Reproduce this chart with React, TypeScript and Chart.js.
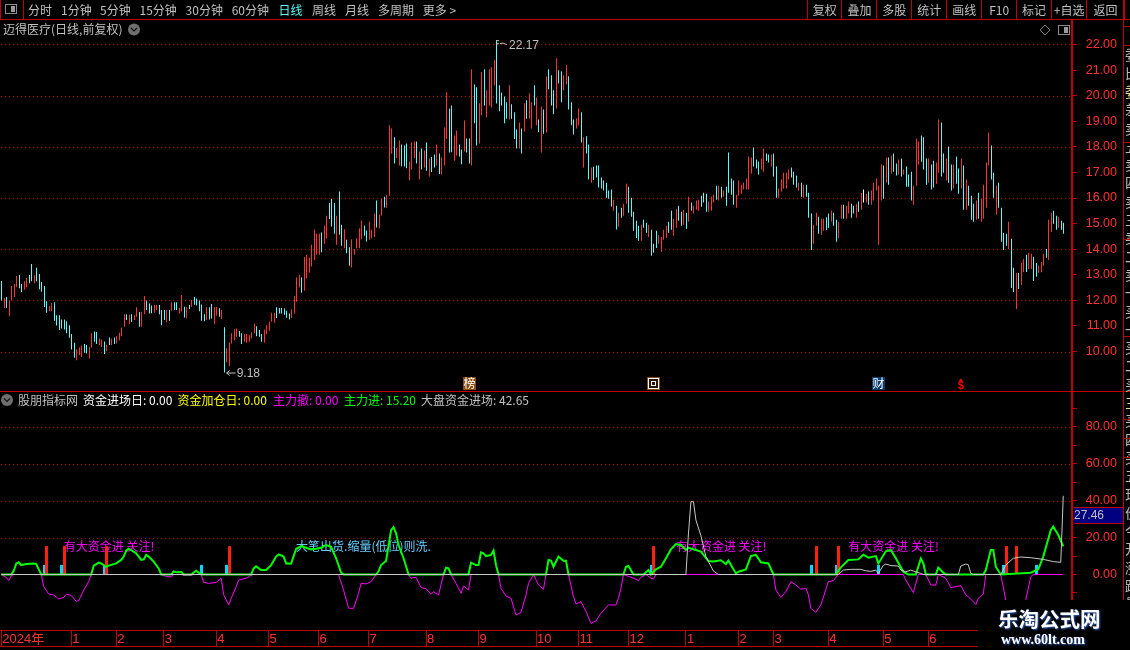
import React, { useEffect, useRef } from "react";
import { Chart, registerables } from "chart.js";

Chart.register(...registerables);

// ---------- data ----------
const candleHigh = [
  12.76,12.09,12.13,11.99,12.56,12.64,12.95,12.99,12.64,12.75,
  12.88,12.99,13.42,12.98,13.27,13.03,12.72,12.56,11.96,11.78,
  11.91,11.93,11.42,11.42,11.25,11.25,11.18,11.03,10.68,10.34,
  10.09,10.16,10.24,10.29,10.25,10.18,10.71,10.78,10.76,10.51,
  10.47,10.39,10.26,10.55,10.50,10.55,10.60,10.73,10.94,11.46,
  11.46,11.44,11.46,11.42,11.73,11.54,11.54,12.17,11.99,11.88,
  11.80,11.82,11.82,11.82,11.62,11.62,11.62,11.62,11.93,11.93,
  11.93,11.71,12.21,11.75,11.73,11.82,12.01,12.13,12.07,11.99,
  11.84,11.46,11.74,11.73,11.86,11.73,11.74,11.69,11.62,10.95,
  10.13,10.35,10.71,10.88,10.90,10.80,10.71,10.68,10.68,10.64,
  10.75,11.10,10.99,10.84,10.68,10.86,11.03,11.16,11.52,11.52,
  11.73,11.70,11.70,11.68,11.59,11.49,11.65,12.17,12.89,12.99,
  12.89,13.69,13.78,13.66,14.17,14.76,14.60,14.60,14.65,14.92,
  15.31,15.80,15.97,15.80,15.31,16.25,14.95,14.78,14.37,14.08,
  14.39,14.00,14.43,14.82,15.12,14.92,14.73,15.08,14.76,15.40,
  15.90,15.35,15.97,16.05,16.13,18.84,18.72,18.37,17.95,18.25,
  18.09,18.05,18.13,17.42,18.18,18.21,18.21,17.82,17.93,17.86,
  18.17,17.54,17.60,17.70,18.09,17.74,17.59,18.76,20.13,19.50,
  19.62,18.44,18.64,18.09,17.90,19.03,18.33,18.33,21.03,20.44,
  20.33,19.70,20.92,21.03,20.21,21.03,21.11,21.39,22.17,20.41,
  20.12,19.97,19.74,20.41,19.66,19.35,18.68,18.95,18.72,19.70,
  19.82,20.09,19.74,20.41,19.93,19.07,19.58,19.46,20.76,21.03,
  20.80,20.21,21.46,20.99,20.95,20.80,21.19,20.76,19.74,19.07,
  19.11,19.50,19.35,18.37,18.41,18.09,17.19,17.22,17.27,17.27,
  16.80,16.68,16.60,16.29,16.33,15.93,15.70,15.42,15.62,15.78,
  16.56,16.44,16.01,15.46,15.11,14.92,14.95,15.15,15.03,14.95,
  14.76,14.21,14.72,14.56,14.48,14.76,14.92,15.07,15.50,15.19,
  15.58,15.70,15.46,15.54,15.42,16.05,15.82,15.70,15.90,15.93,
  16.09,16.21,16.17,15.86,16.05,16.13,16.48,16.48,16.44,16.29,
  16.44,17.78,16.76,16.68,16.13,16.68,16.52,16.60,16.76,17.62,
  17.58,17.97,17.50,17.42,17.54,17.93,17.74,17.70,17.70,17.74,
  17.23,16.37,16.72,16.99,16.99,17.11,17.19,17.03,16.88,16.60,
  16.60,16.52,16.52,16.21,15.39,14.95,15.42,15.27,15.19,15.19,
  15.25,15.39,15.50,15.42,15.15,15.07,15.74,15.74,15.70,15.86,
  15.78,15.70,15.78,15.86,16.21,16.33,16.17,16.25,16.29,16.60,
  16.76,16.48,17.31,17.27,17.58,17.58,17.66,17.74,17.35,17.50,
  17.54,17.11,17.23,16.92,17.03,16.48,18.33,18.21,18.44,18.37,
  17.54,17.54,17.31,17.46,17.39,19.07,18.95,17.74,17.54,18.01,
  17.31,17.31,17.62,17.15,17.54,17.27,16.72,16.48,16.09,15.78,
  15.90,16.21,15.97,16.52,17.39,18.56,18.05,16.99,16.48,16.60,
  15.62,14.64,14.60,15.07,14.41,13.27,13.07,13.07,13.47,13.62,
  13.78,13.86,13.82,13.70,13.46,13.35,13.50,13.82,14.01,15.15,
  15.42,15.50,15.31,15.27,15.11,15.03,
];

const candleLow = [
  11.99,11.70,11.71,11.39,11.99,12.13,12.51,12.47,12.33,12.41,
  12.51,12.67,12.75,12.67,12.75,12.43,12.34,11.74,11.52,11.57,
  11.57,11.20,11.02,10.84,10.90,10.86,10.71,10.54,10.08,9.76,
  9.66,9.86,9.79,9.95,9.92,9.73,10.16,10.38,10.29,10.25,
  10.18,9.90,10.01,10.25,10.25,10.29,10.31,10.44,10.60,10.97,
  11.23,11.07,11.15,11.23,11.36,10.97,10.97,11.46,11.62,11.49,
  11.50,11.52,11.62,11.46,11.03,11.23,11.14,11.20,11.59,11.62,
  11.62,11.49,11.56,11.33,11.31,11.66,11.75,11.83,11.80,11.57,
  11.20,11.18,11.23,11.25,11.29,11.07,11.40,11.36,11.27,9.18,
  9.58,9.42,10.31,10.44,10.58,10.58,10.29,10.38,10.34,10.38,
  10.51,10.71,10.60,10.58,10.38,10.34,10.68,10.81,11.16,11.12,
  11.31,11.49,11.49,11.44,11.32,11.25,11.31,11.49,11.95,12.50,
  12.30,12.38,12.86,13.08,13.32,13.58,13.78,13.78,13.88,14.21,
  14.43,15.18,14.89,14.60,14.17,14.56,14.13,14.04,13.84,13.35,
  13.28,13.78,14.04,14.04,14.39,14.52,14.30,14.37,14.43,14.48,
  14.85,14.82,15.31,15.63,15.62,16.09,17.74,17.35,17.56,17.27,
  17.24,17.23,17.16,16.68,17.11,17.56,17.35,16.72,17.11,17.19,
  17.07,16.84,17.02,17.19,17.27,16.94,16.92,17.27,18.31,17.78,
  17.79,17.46,17.66,17.62,17.32,17.82,17.78,17.35,17.27,18.92,
  18.05,18.13,19.23,19.62,19.15,19.62,19.54,20.41,19.69,19.39,
  19.62,18.92,19.10,19.07,19.10,18.31,17.93,17.93,17.74,18.60,
  19.10,19.10,18.72,19.62,18.84,18.58,17.78,18.51,18.56,20.25,
  19.62,19.27,19.50,20.48,19.74,20.21,20.44,19.46,18.84,18.48,
  18.72,18.84,18.17,17.19,17.74,16.72,16.60,16.70,16.80,16.41,
  16.37,16.29,16.01,15.97,15.67,15.50,14.77,14.88,15.23,15.31,
  15.78,15.42,15.27,14.72,14.44,14.33,14.33,14.84,14.64,14.48,
  13.74,13.86,14.05,14.21,13.90,14.37,14.44,14.64,14.76,14.52,
  14.84,15.11,14.92,14.95,14.80,15.07,15.50,15.39,15.54,15.50,
  15.66,15.82,15.46,15.46,15.50,15.82,15.93,15.90,16.01,16.05,
  15.70,16.21,16.13,15.74,15.62,16.09,16.17,16.33,16.33,16.33,
  16.95,17.23,17.15,16.92,17.11,17.03,17.46,17.39,17.23,16.84,
  16.01,16.01,16.25,16.37,16.37,16.72,16.80,16.52,16.41,16.29,
  16.05,16.01,16.05,15.23,13.97,14.21,14.92,14.60,14.56,14.72,
  14.75,14.84,15.07,14.92,14.29,14.44,15.19,15.19,15.19,15.39,
  15.23,15.39,15.23,15.46,15.54,15.82,15.82,15.74,15.74,15.90,
  16.29,14.17,15.90,15.97,16.60,16.52,16.95,17.03,16.88,16.92,
  16.84,16.92,16.44,16.44,15.90,15.74,16.48,17.31,17.42,17.11,
  16.52,16.60,16.33,16.41,16.56,16.99,16.84,16.99,16.68,16.60,
  16.29,16.37,16.56,16.17,16.37,15.54,15.54,15.70,15.15,15.07,
  15.15,15.19,15.07,15.19,15.62,17.27,16.72,16.01,15.35,15.62,
  14.29,13.97,14.13,14.01,12.48,12.33,11.66,12.44,12.60,13.11,
  13.11,13.23,13.23,12.76,12.92,13.07,13.10,13.35,13.66,13.58,
  14.68,14.99,14.76,14.84,14.76,14.60,
];

// u = closed up, d = closed down, w = flat
const candleDirection = [
  "d u d u u u u d d u","u d d u d d d d d u","u d d d d d d d d d","u u u d d u u d d u","u d u d u d u u u u",
  "d u d u u d u u d d","d u u d d d u d u d","d u u d u d u d d d","d d u d d u u d u d","u u u u u d d u u u",
  "u u d d d u u u u u","d d d d d d u u u u","d u u u u u u u d u","u d d d u d d u d d","u u u u u d d u u u",
  "d u u d u u u d u u","d d d u u u d u d u","d u d d u d u u u d","d u u d d u d d u d","d u u d u u u u d d",
  "d d d u d d d u d u","d u u d u d u d u d","d d u d d u u d d d","u u d u d d u d d d","d d d d d u d u d u",
  "u d d d d d u d d u","d d d u u u u d d u","u d d u d u d u u u","d d d u u u d u d u","d d d d u u u u u u",
  "u d d d u u d d u d","d u u u u u d d d u","d u d d d u u d u u","d d u d d u u d u u","d d u d u w u d u u",
  "u u u d u d u d d u","d u d d d u u u d d","d u d d u u d d u d","d u d d u d u d d d","u d u u u u d d u d",
  "d d d u d d u d u u","d u u d d u u u d u","u d d u d d",
].join(" ").split(" ");

const categories = new Array(429).fill("");
const monthStarts = [0,28,46,65,86,107,127,147,170,191,214,231,251,274,295,309,331,353,371];
const monthLabels = ["2024年","1","2","3","4","5","6","7","8","9","10","11","12","1","2","3","4","5","6"];
monthStarts.forEach((m, k) => { categories[m] = monthLabels[k]; });

const mainInflow = [
  [0,0],[4,0],[5,2],[6,6],[7,6.6],[8,5.1],[10,5.7],[13,6],[14,5.7],[15,2.8],[16,0],[36,0],[37,4.8],[39,6.4],[40,6],
  [42,4.2],[43,4.8],[46,6],[48,7.9],[49,9.7],[50,12.9],[51,14],[53,12.4],[54,11.5],[56,7.9],[57,8.2],[58,10.6],[59,9.7],
  [61,7],[63,3.3],[64,0],[68,0],[69,1.7],[70,1.2],[72,1.4],[73,0],[76,0],[78,2],[79,1],[80,0],[100,0],[101,3.3],[102,4.4],
  [104,2.4],[106,2.4],[108,5.1],[110,9.7],[111,10.9],[113,9.7],[114,6],[116,5.9],[118,13.8],[120,15.4],[122,14.5],[124,13.6],
  [126,14],[128,14.5],[130,16],[132,15],[134,8.8],[136,1],[137,0],[150,0],[151,1.7],[152,5.1],[154,7.3],[156,24],[157,25.6],
  [158,22.3],[159,16],[161,8.8],[163,0],[177,0],[178,3.7],[179,3.3],[180,0],[187,0],[188,6.4],[190,5.1],[191,5.1],[192,12],
  [193,11.5],[194,10],[196,10.6],[197,13],[198,5],[199,0],[218,0],[219,7.9],[220,7.5],[221,4.2],[223,9.7],[225,7.5],[226,7.5],
  [227,0],[249,0],[250,4.2],[251,4.6],[253,0],[257,0],[259,2.4],[260,0],[262,2.8],[264,4.2],[266,8.8],[268,13.6],[270,16.5],
  [272,16],[274,13.3],[275,14.5],[278,13.3],[280,12.4],[283,7.3],[285,7],[288,7.7],[290,5.7],[291,7.5],[294,0.6],[295,1.5],
  [298,2.8],[300,10],[302,10.6],[304,6.6],[307,6],[309,0],[334,0],[336,3.9],[339,7.9],[343,8.2],[345,10.7],[347,9.1],[350,10],
  [351,6],[354,12.6],[356,13.3],[358,8.8],[361,1.5],[363,0],[366,0],[368,8.6],[369,6],[370,0],[374,0],[375,3.7],[377,1],[378,0],
  [393,0],[394,2.4],[396,13.3],[397,13.3],[398,4.2],[400,0],[412,1],[415,2.8],[417,9.7],[420,24],[421,26],[423,21.4],[425,15.2],
];

const mainOutflow = [
  [0,0],[2,-1.5],[3,-3.3],[4,-0.8],[5,0],[16,0],[17,-6.6],[19,-10.6],[21,-11.1],[23,-13.3],[25,-12.4],[26,-10.7],[28,-11.3],
  [30,-14.5],[31,-14.2],[33,-8.4],[35,-3.9],[36,0],[64,0],[66,-1],[68,-1.4],[69,0],[72,0],[73,-0.5],[76,-0.5],[77,0],[80,0],
  [81,-4.2],[83,-4.8],[86,-4.3],[88,-1.9],[89,-11],[91,-16.5],[92,-13],[94,-6.6],[95,-3],[98,-2],[100,-0.3],[101,0],[135,0],
  [137,-8.4],[139,-18.3],[141,-18.3],[143,-10.2],[144,-4.8],[146,-5.1],[148,-3.9],[150,0],[163,0],[164,-2],[166,-1.5],[168,-7.1],
  [170,-7.7],[172,-10.7],[173,-9.3],[175,-11.1],[177,0],[180,0],[182,-4.8],[184,-10.2],[185,-6.2],[187,-8.4],[188,0],[199,0],
  [200,-7.5],[202,-11.7],[204,-12.9],[206,-22],[208,-20.5],[210,-11.1],[211,-4.8],[213,0],[215,-5.7],[217,-8],[218,0],[227,0],
  [229,-12],[230,-16],[232,-14.7],[234,-20.1],[236,-26.5],[238,-25.2],[240,-21],[243,-16.5],[246,-16.5],[247,-12.9],[248,-7.5],
  [249,0],[253,-2],[255,-3.3],[256,-1.5],[258,0],[260,-2],[261,-2.5],[262,0],[309,0],[310,-8.4],[312,-12.4],[314,-9.3],[316,-3.9],
  [318,-5.7],[320,-8],[322,-7.5],[323,-11],[324,-18.3],[326,-20.5],[328,-16.5],[331,-3.9],[333,-3.3],[335,0],[361,0],[362,-3],
  [365,-9.8],[367,0],[370,0],[372,-5.7],[374,-5.7],[375,0],[378,-2],[380,-7.1],[382,-6.6],[384,-6],[386,-11],[388,-13.3],
  [390,-16.2],[391,-12.9],[393,-10.6],[394,0],[400,0],[402,-13.8],[404,-30],[407,-30],[410,-13.8],[412,-1.2],[413,0],[425,0],
];

const marketInflow = [
  [0,0],[274,0],[275,22],[276,39.5],[277,39.5],[278,29.5],[280,21],[282,9.7],[285,1.9],[287,0],[335,0],[337,2.4],[340,2.8],
  [344,2.8],[346,2],[348,1.7],[350,2.4],[351,0.6],[353,5],[354,5.7],[356,4.8],[359,4.6],[360,2.4],[362,1.5],[364,2.4],[366,1.4],
  [368,0.6],[369,0],[383,0],[384,4.6],[386,5.7],[387,5.3],[388,0.6],[389,0],[400,0],[402,5.1],[405,8.8],[408,9.5],[412,9.1],
  [417,8.2],[421,7],[424,6.6],[425,42.65],
];

const capitalEntryDays = [[18,15.4],[25,15.4],[42,15.4],[91,15.4],[261,15.4],[326,15.4],[335,15.4],[402,15.4],[406,15.4]];
const capitalAddDays = [[17,5.2],[24,5.2],[41,5.2],[80,5.2],[90,5.2],[260,5.2],[324,5.2],[334,5.2],[351,5.2],[401,5.2],[414,5.2]];

const priceGridLevels = [10, 12, 14, 16, 18, 20, 22];
const indicatorGridLevels = [20, 40, 60, 80];

const chartNotes = [
  { index: 25, value: 15.45, text: "有大资金进 关注!", color: "#ff00ff" },
  { index: 118, value: 15.45, text: "大笔出货.缩量(低位)则洗.", color: "#66ccff" },
  { index: 270, value: 15.45, text: "有大资金进 关注!", color: "#ff00ff" },
  { index: 339, value: 15.45, text: "有大资金进 关注!", color: "#ff00ff" },
];

const indicatorLegend = [
  { x: 18, text: "股朋指标网", color: "#c0c0c0" },
  { x: 83, text: "资金进场日: 0.00", color: "#ffffff" },
  { x: 177.5, text: "资金加仓日: 0.00", color: "#ffff00" },
  { x: 273, text: "主力撤: 0.00", color: "#ff00ff" },
  { x: 344, text: "主力进: 15.20", color: "#00ff00" },
  { x: 421, text: "大盘资金进场: 42.65", color: "#c0c0c0" },
];

const periodMenu = [
  { x: 28, text: "分时" }, { x: 61, text: "1分钟" }, { x: 100, text: "5分钟" }, { x: 139.5, text: "15分钟" },
  { x: 185.6, text: "30分钟" }, { x: 231.7, text: "60分钟" }, { x: 278.6, text: "日线", active: true },
  { x: 312, text: "周线" }, { x: 345, text: "月线" }, { x: 378, text: "多周期" }, { x: 422.7, text: "更多 >" },
];
const toolButtons = ["复权", "叠加", "多股", "统计", "画线", "F10", "标记", "+自选", "返回"];
const toolSeparators = [807, 841.4, 876.4, 911.3, 946.3, 981.2, 1016.2, 1051, 1086.4, 1123.6];
const eventBadges = [
  { index: 187, text: "榜", bg: "#8a4a12" },
  { index: 261, text: "回", bg: "#8a4a12" },
  { index: 351, text: "财", bg: "#0d3a6e" },
];
const sideGlyphs = "委比委差卖五卖四卖三卖二卖一买一买二买三买四买五现价今开涨跌最高涨幅最低总手量比外盘内盘换手股本净资";

// ---------- styling ----------
const RED_TEXT = "#ff3232";
const RED_LINE = "#c00000";
const RED_DOT = "#a80000";
const CJK = '"Noto Sans CJK SC", "Liberation Sans", sans-serif';
const NUM = '"Liberation Sans", "Noto Sans CJK SC", sans-serif';

const sparse = (pts: number[][]) => {
  const out: (number | null)[] = new Array(candleHigh.length).fill(null);
  pts.forEach(([i, v]) => { out[i] = v; });
  return out;
};

const pixelSnap = {
  id: "pixelSnap",
  afterDatasetsUpdate(chart: any) {
    chart.data.datasets.forEach((ds: any, k: number) => {
      if (ds.type !== "bar") return;
      chart.getDatasetMeta(k).data.forEach((el: any) => { el.x = Math.round(el.x) + 0.5; });
    });
  },
};

const hline = (ctx: any, x0: number, x1: number, y: number, c = RED_LINE) => {
  ctx.fillStyle = c; ctx.fillRect(x0, y, x1 - x0, 1);
};
const vline = (ctx: any, x: number, y0: number, y1: number, c = RED_LINE) => {
  ctx.fillStyle = c; ctx.fillRect(x, y0, 1, y1 - y0);
};
const label = (ctx: any, text: string, x: number, y: number, color: string, font = `12px ${CJK}`, align = "left") => {
  ctx.font = font; ctx.fillStyle = color; ctx.textAlign = align; ctx.textBaseline = "middle";
  ctx.fillText(text, x, y);
};
const chevronCircle = (ctx: any, x: number, y: number) => {
  ctx.fillStyle = "#6e6e6e"; ctx.beginPath(); ctx.arc(x, y, 6, 0, Math.PI * 2); ctx.fill();
  ctx.strokeStyle = "#101010"; ctx.lineWidth = 1.2; ctx.beginPath();
  ctx.moveTo(x - 3, y - 1.5); ctx.lineTo(x, y + 1.5); ctx.lineTo(x + 3, y - 1.5); ctx.stroke();
};
const panelIcon = (ctx: any, x: number, y: number) => {
  ctx.strokeStyle = "#8a8a8a"; ctx.lineWidth = 1; ctx.strokeRect(x + 0.5, y + 0.5, 11, 9);
  ctx.fillStyle = "#9a9a9a"; ctx.fillRect(x + 6, y + 2, 4, 6);
};

const dotRow = (ctx: any, y: number, right: number) => {
  const row = Math.round(y);
  ctx.fillStyle = RED_DOT;
  for (let px = 1; px < right; px += 4) ctx.fillRect(px, row, 1, 1);
};

const notesLayer = {
  id: "notesLayer",
  beforeDatasetsDraw(chart: any) {
    const { ctx, scales, chartArea } = chart;
    ctx.save();
    priceGridLevels.forEach((v) => dotRow(ctx, scales.y.getPixelForValue(v), chartArea.right));
    indicatorGridLevels.forEach((v) => dotRow(ctx, scales.y2.getPixelForValue(v), chartArea.right));
    chartNotes.forEach((n) => {
      label(ctx, n.text, scales.x.getPixelForValue(n.index), scales.y2.getPixelForValue(n.value), n.color);
    });
    ctx.restore();
  },
};

const chrome = {
  id: "chrome",
  afterDraw(chart: any) {
    const { ctx, scales } = chart;
    const { x, y } = scales;
    ctx.save();
    // toolbar
    hline(ctx, 0, 1130, 19);
    vline(ctx, 0, 0, 19);
    vline(ctx, 23, 0, 19);
    panelIcon(ctx, 5, 4);
    periodMenu.forEach((m) => label(ctx, m.text, m.x, 10, m.active ? "#54fcfc" : "#c0c0c0"));
    toolSeparators.forEach((s) => vline(ctx, Math.round(s), 0, 19));
    toolButtons.forEach((b, k) => {
      label(ctx, b, (toolSeparators[k] + toolSeparators[k + 1]) / 2 + 0.5, 10, "#c0c0c0", `12px ${CJK}`, "center");
    });
    // price panel header
    label(ctx, "迈得医疗(日线,前复权)", 3, 29.5, "#c0c0c0");
    chevronCircle(ctx, 134, 29.5);
    ctx.strokeStyle = "#777777"; ctx.lineWidth = 1; ctx.beginPath();
    ctx.moveTo(1045, 25); ctx.lineTo(1050, 30); ctx.lineTo(1045, 35); ctx.lineTo(1040, 30); ctx.closePath(); ctx.stroke();
    panelIcon(ctx, 1058, 25);
    // high / low marks
    const hx = x.getPixelForValue(198), hy = y.getPixelForValue(22.17);
    ctx.strokeStyle = "#c0c0c0"; ctx.beginPath();
    ctx.moveTo(hx, hy + 0.5); ctx.lineTo(hx + 3, hy + 0.5);
    ctx.moveTo(hx, hy + 3.5); ctx.lineTo(hx + 3, hy + 3.5);
    ctx.moveTo(hx + 4, hy + 3.5); ctx.lineTo(hx + 7, hy + 3); ctx.lineTo(hx + 11, hy + 4.5);
    ctx.stroke();
    label(ctx, "22.17", hx + 13, hy + 5.5, "#c0c0c0", `12px ${NUM}`);
    const lx = x.getPixelForValue(89), ly = y.getPixelForValue(9.18);
    ctx.beginPath();
    ctx.moveTo(lx + 3, ly + 0.5); ctx.lineTo(lx + 12, ly + 0.5);
    ctx.moveTo(lx + 6, ly - 2); ctx.lineTo(lx + 3, ly + 0.5); ctx.lineTo(lx + 6, ly + 3);
    ctx.stroke();
    label(ctx, "9.18", lx + 13, ly + 1, "#c0c0c0", `12px ${NUM}`);
    // event badges
    eventBadges.forEach((b) => {
      const cx = Math.round(x.getPixelForValue(b.index));
      ctx.fillStyle = b.bg; ctx.fillRect(cx - 6, 377, 13, 13);
      if (b.text === "回") {
        ctx.strokeStyle = "#ffffff"; ctx.lineWidth = 1;
        ctx.fillStyle = "#2a1405"; ctx.fillRect(cx - 4, 379, 9, 9);
        ctx.strokeRect(cx - 4.5, 378.5, 10, 10);
        ctx.strokeRect(cx - 1.5, 381.5, 4, 4);
      } else {
        label(ctx, b.text, cx + 0.5, 383.5, "#ffffff", `12px ${CJK}`, "center");
      }
    });
    const sx = x.getPixelForValue(384);
    label(ctx, "$", sx, 386, "#ff0000", `bold 11px ${NUM}`, "center");
    ctx.fillStyle = "#ff0000"; ctx.beginPath();
    ctx.moveTo(sx, 378.5); ctx.lineTo(sx + 2, 381); ctx.lineTo(sx - 2, 381); ctx.closePath(); ctx.fill();
    // indicator panel header
    hline(ctx, 0, 1130, 391);
    chevronCircle(ctx, 7, 400);
    indicatorLegend.forEach((l) => label(ctx, l.text, l.x, 400.5, l.color));
    // second row of the date axis
    hline(ctx, 0, 1072, 646);
    // value box
    ctx.fillStyle = "#000080"; ctx.fillRect(1074, 508, 49, 15);
    hline(ctx, 1074, 1123, 507); hline(ctx, 1074, 1123, 523);
    label(ctx, "27.46", 1074, 515.5, "#c0c0c0", `12px ${NUM}`);
    // right-hand side column, cut off by the window
    vline(ctx, 1123, 0, 600);
    ctx.save();
    ctx.beginPath(); ctx.rect(1124, 20, 6, 580); ctx.clip();
    Array.from(sideGlyphs).forEach((ch, k) => {
      label(ctx, ch, 1125, 55 + k * 18.3, k % 17 === 2 ? "#e0e0a0" : "#b8b8b8", `14px ${CJK}`);
    });
    ctx.restore();
    [26, 45, 142, 239, 336, 419, 438, 457].forEach((h) => hline(ctx, 1124, 1130, h));
    // watermark
    ctx.fillStyle = "#000000"; ctx.fillRect(978, 600, 152, 50);
    ctx.shadowColor = "#3060c0"; ctx.shadowBlur = 2; ctx.shadowOffsetX = 1; ctx.shadowOffsetY = 1;
    label(ctx, "乐淘公式网", 998, 619.5, "#ffffff", `bold 20.5px ${CJK}`);
    label(ctx, "www.60lt.com", 1001, 640, "#ffffff", 'bold 14px "Liberation Serif", serif');
    ctx.restore();
  },
};

const tickFont = { family: NUM, size: 12.5 };

export default function App() {
  const ref = useRef<HTMLCanvasElement | null>(null);
  useEffect(() => {
    document.body.style.margin = "0";
    document.body.style.background = "#000";
    const canvas = ref.current as HTMLCanvasElement;
    const candles = candleHigh.map((h, i) => [candleLow[i], h]);
    const dirColors = candleDirection.map((d) =>
      d === "u" ? "#ff3232" : d === "w" ? "#ffffff" : "#54fcfc");
    const thin = { type: "line", pointRadius: 0, spanGaps: true, tension: 0, yAxisID: "y2" };
    const chart = new Chart(canvas, {
      type: "bar",
      data: {
        labels: categories,
        datasets: [
          { type: "bar", label: "K线", data: candles, backgroundColor: dirColors, barThickness: 1, grouped: false, inflateAmount: 0, yAxisID: "y", order: 9 },
          { type: "bar", label: "资金加仓日", data: sparse(capitalAddDays), backgroundColor: "#00d8ff", barThickness: 3, grouped: false, inflateAmount: 0, yAxisID: "y2", order: 8 },
          { type: "bar", label: "资金进场日", data: sparse(capitalEntryDays), backgroundColor: "#ff2010", barThickness: 3, grouped: false, inflateAmount: 0, yAxisID: "y2", order: 7 },
          { ...thin, label: "主力撤", data: sparse(mainOutflow), borderColor: "#ff00ff", borderWidth: 1, order: 3 },
          { ...thin, label: "主力进", data: sparse(mainInflow), borderColor: "#00ff00", borderWidth: 2, order: 2 },
          { ...thin, label: "大盘资金进场", data: sparse(marketInflow), borderColor: "#c8c8c8", borderWidth: 1, order: 1 },
        ],
      } as any,
      options: {
        animation: false,
        responsive: false,
        devicePixelRatio: 1,
        events: [],
        layout: { padding: { top: 20, left: 0, right: 13, bottom: 0 } },
        plugins: { legend: { display: false }, tooltip: { enabled: false }, title: { display: false } },
        scales: {
          x: {
            type: "category",
            offset: true,
            afterBuildTicks: (s: any) => { s.ticks = monthStarts.map((v) => ({ value: v })); },
            afterFit: (s: any) => { s.height = 20; },
            ticks: { autoSkip: false, maxRotation: 0, minRotation: 0, align: "start", labelOffset: 1, padding: -14, color: RED_TEXT, font: { family: NUM, size: 13 } },
            grid: { drawOnChartArea: false, offset: false, tickLength: 16, color: RED_LINE, tickColor: RED_LINE },
            border: { color: RED_LINE },
          },
          y: {
            type: "linear",
            position: "right",
            stack: "panels",
            stackWeight: 371,
            min: 8.457,
            max: 22.957,
            afterBuildTicks: (s: any) => { s.ticks = s.ticks.filter((t: any) => t.value >= 10 && t.value <= 22); },
            afterFit: (s: any) => { s.width = 45; },
            ticks: { stepSize: 1, includeBounds: false, autoSkip: false, padding: 9, crossAlign: "far", color: RED_TEXT, font: tickFont, callback: (v: any) => Number(v).toFixed(2) },
            grid: { drawOnChartArea: false, tickLength: 5, tickColor: RED_LINE },
            border: { color: RED_LINE, width: 2 },
          },
          y2: {
            type: "linear",
            position: "right",
            stack: "panels",
            stackWeight: 239,
            min: -30.08,
            max: 99.46,
            afterBuildTicks: (s: any) => { s.ticks = s.ticks.filter((t: any) => t.value >= -20 && t.value <= 90); },
            afterFit: (s: any) => { s.width = 45; },
            ticks: { stepSize: 10, includeBounds: false, autoSkip: false, padding: 9, crossAlign: "far", color: RED_TEXT, font: tickFont, callback: (v: any) => (v >= 0 && v % 20 === 0 ? Number(v).toFixed(2) : "") },
            grid: { drawOnChartArea: false, tickLength: 5, tickColor: RED_LINE },
            border: { color: RED_LINE, width: 2 },
          },
        },
      } as any,
      plugins: [pixelSnap, notesLayer, chrome],
    } as any);
    return () => chart.destroy();
  }, []);
  return (
    <div style={{ position: "fixed", left: 0, top: 0, width: 1130, height: 650, background: "#000" }}>
      <canvas ref={ref} width={1130} height={650} style={{ display: "block" }} />
    </div>
  );
}
